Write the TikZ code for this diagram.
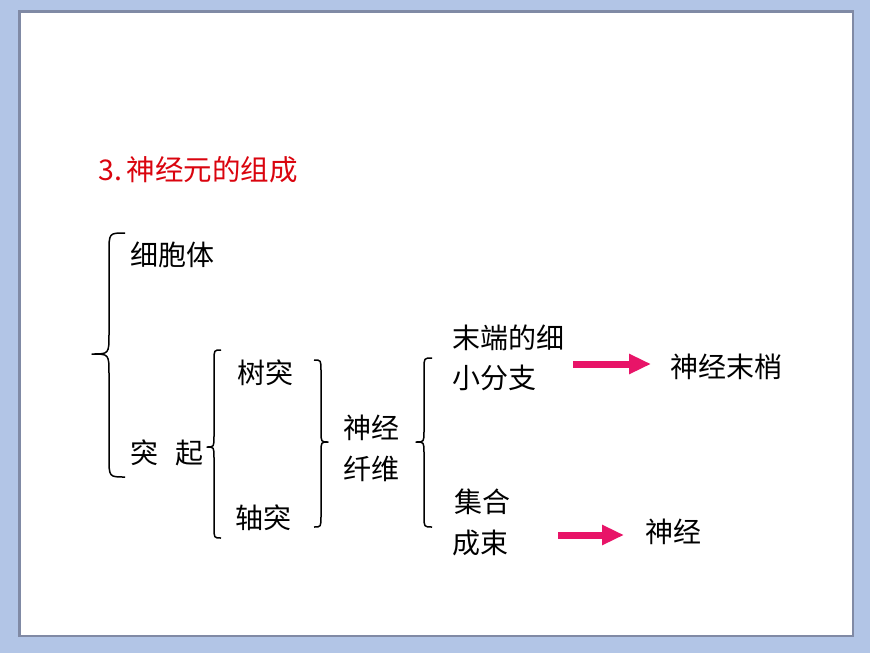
\documentclass[tikz,border=0pt]{standalone}
\usepackage{fontspec}
\setmainfont{Noto Sans CJK SC}
\usetikzlibrary{arrows.meta}
\definecolor{bgblue}{RGB}{178,197,230}
\definecolor{shadowc}{RGB}{128,138,165}
\definecolor{titlered}{RGB}{218,4,14}
\definecolor{arrowpink}{RGB}{232,20,104}
\newcommand{\mybrace}[7]{%
  \draw[brc] (#1,#4) .. controls (#2,#4) .. (#2,{#4+#7}) -- (#2,{#5-#7})
    .. controls (#2,#5) .. (#3,#5) .. controls (#2,#5) .. (#2,{#5+#7})
    -- (#2,{#6-#7}) .. controls (#2,#6) .. (#1,#6);}
\begin{document}
\begin{tikzpicture}[x=1pt,y=-1pt,
  brc/.style={draw=black,line width=1.5pt,line join=round},
  txt/.style={anchor=west,inner sep=0pt,font=\fontsize{28}{30}\selectfont},
  ttl/.style={anchor=west,inner sep=0pt,text=titlered,font=\fontsize{28.5}{30}\selectfont},
  parrow/.style={draw=arrowpink,line width=7pt,-{Triangle[length=22pt,width=19pt]}}]
\useasboundingbox (0,0) rectangle (870,653);
\fill[bgblue] (0,0) rectangle (870,653);
\fill[shadowc] (18,10) rectangle (854,637);
\fill[white] (21,13) rectangle (852,635);
% title
\node[ttl] (title) at (98,170) {3.\hspace{5pt}神经元的组成};
% level 1
\node[txt] (cell) at (130,255) {细胞体};
\node[txt] (proc) at (130,453) {突\hspace{17pt}起};
\mybrace{125}{109}{92}{233}{354}{477}{20}
% level 2
\node[txt] (dend) at (237,373) {树突};
\node[txt] (axon) at (235,518) {轴突};
\mybrace{221}{214}{207}{350}{447}{538}{11}
\mybrace{314}{321}{328}{360}{442}{527}{11}
% level 3
\node[txt] (nf1) at (343,428) {神经};
\node[txt] (nf2) at (343,469) {纤维};
\mybrace{432}{424}{416}{358}{442}{527}{11}
% level 4
\node[txt] (end1) at (452,338) {末端的细};
\node[txt] (end2) at (452,378) {小分支};
\node[txt] (bun1) at (454,502) {集合};
\node[txt] (bun2) at (452,543) {成束};
\node[txt] (ending) at (670,367) {神经末梢};
\node[txt] (nerve) at (645,532) {神经};
\coordinate (a1s) at (573,364);
\coordinate (a1e) at (651,364);
\coordinate (a2s) at (558,535);
\coordinate (a2e) at (624,535);
\draw[parrow] (a1s) -- (a1e);
\draw[parrow] (a2s) -- (a2e);
\end{tikzpicture}
\end{document}
